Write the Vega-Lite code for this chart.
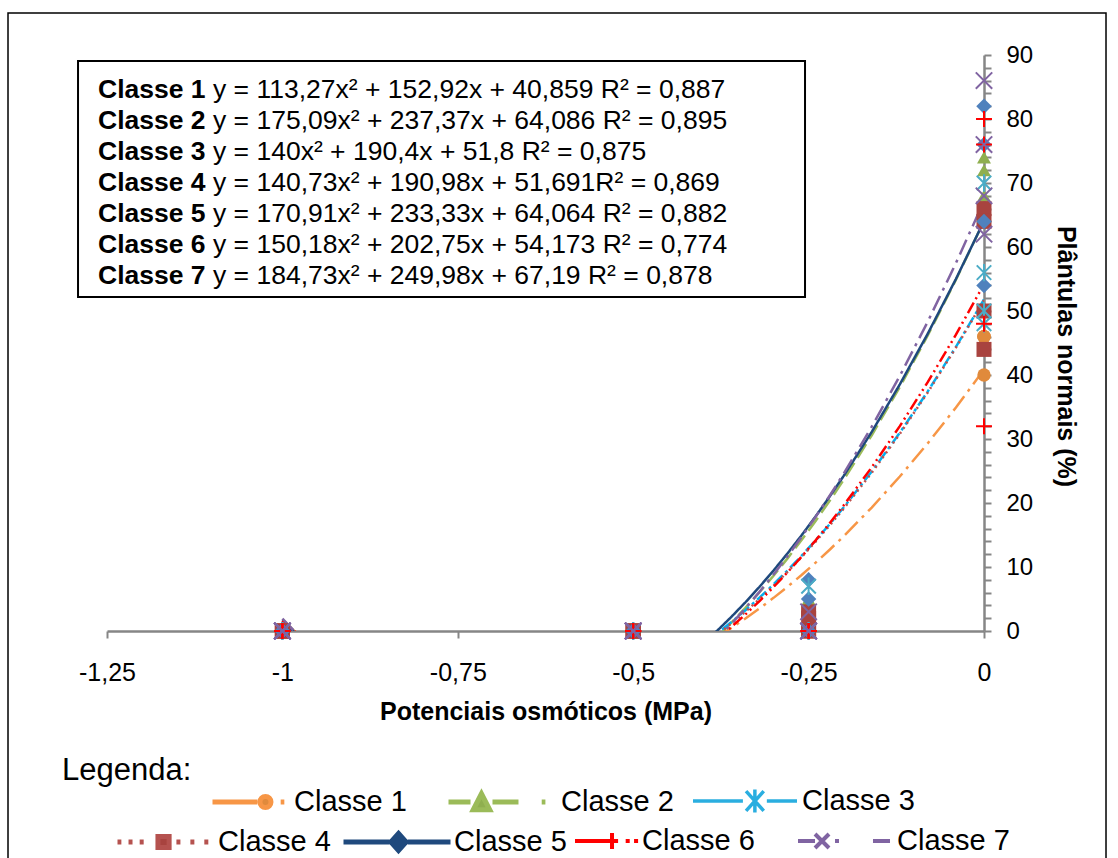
{
  "$schema": "https://vega.github.io/schema/vega-lite/v6.json",
  "width": 877,
  "height": 576,
  "autosize": {"type": "none"},
  "padding": {"left": 107, "top": 55, "right": 134, "bottom": 227},
  "background": "white",
  "config": {"view": {"stroke": null}, "font": "Liberation Sans", "axis": {"grid": false}},
  "data": {"values": [
    {"classe": "Classe 1", "x": 0, "y": 40}, {"classe": "Classe 1", "x": 0, "y": 46}, {"classe": "Classe 1", "x": 0, "y": 46}, {"classe": "Classe 1", "x": 0, "y": 46},
    {"classe": "Classe 1", "x": -0.25, "y": 0}, {"classe": "Classe 1", "x": -0.25, "y": 0}, {"classe": "Classe 1", "x": -0.25, "y": 0}, {"classe": "Classe 1", "x": -0.25, "y": 0},
    {"classe": "Classe 1", "x": -0.5, "y": 0}, {"classe": "Classe 1", "x": -0.5, "y": 0}, {"classe": "Classe 1", "x": -0.5, "y": 0}, {"classe": "Classe 1", "x": -0.5, "y": 0},
    {"classe": "Classe 1", "x": -1, "y": 0}, {"classe": "Classe 1", "x": -1, "y": 0}, {"classe": "Classe 1", "x": -1, "y": 0}, {"classe": "Classe 1", "x": -1, "y": 0},
    {"classe": "Classe 2", "x": 0, "y": 74}, {"classe": "Classe 2", "x": 0, "y": 72}, {"classe": "Classe 2", "x": 0, "y": 68}, {"classe": "Classe 2", "x": 0, "y": 64},
    {"classe": "Classe 2", "x": -0.25, "y": 5}, {"classe": "Classe 2", "x": -0.25, "y": 0}, {"classe": "Classe 2", "x": -0.25, "y": 0}, {"classe": "Classe 2", "x": -0.25, "y": 0},
    {"classe": "Classe 2", "x": -0.5, "y": 0}, {"classe": "Classe 2", "x": -0.5, "y": 0}, {"classe": "Classe 2", "x": -0.5, "y": 0}, {"classe": "Classe 2", "x": -0.5, "y": 0},
    {"classe": "Classe 2", "x": -1, "y": 0}, {"classe": "Classe 2", "x": -1, "y": 0}, {"classe": "Classe 2", "x": -1, "y": 0}, {"classe": "Classe 2", "x": -1, "y": 0},
    {"classe": "Classe 3", "x": 0, "y": 70}, {"classe": "Classe 3", "x": 0, "y": 56}, {"classe": "Classe 3", "x": 0, "y": 50}, {"classe": "Classe 3", "x": 0, "y": 48},
    {"classe": "Classe 3", "x": -0.25, "y": 7}, {"classe": "Classe 3", "x": -0.25, "y": 0}, {"classe": "Classe 3", "x": -0.25, "y": 0}, {"classe": "Classe 3", "x": -0.25, "y": 0},
    {"classe": "Classe 3", "x": -0.5, "y": 0}, {"classe": "Classe 3", "x": -0.5, "y": 0}, {"classe": "Classe 3", "x": -0.5, "y": 0}, {"classe": "Classe 3", "x": -0.5, "y": 0},
    {"classe": "Classe 3", "x": -1, "y": 0}, {"classe": "Classe 3", "x": -1, "y": 0}, {"classe": "Classe 3", "x": -1, "y": 0}, {"classe": "Classe 3", "x": -1, "y": 0},
    {"classe": "Classe 4", "x": 0, "y": 66}, {"classe": "Classe 4", "x": 0, "y": 64}, {"classe": "Classe 4", "x": 0, "y": 50}, {"classe": "Classe 4", "x": 0, "y": 44},
    {"classe": "Classe 4", "x": -0.25, "y": 3}, {"classe": "Classe 4", "x": -0.25, "y": 2}, {"classe": "Classe 4", "x": -0.25, "y": 0}, {"classe": "Classe 4", "x": -0.25, "y": 0},
    {"classe": "Classe 4", "x": -0.5, "y": 0}, {"classe": "Classe 4", "x": -0.5, "y": 0}, {"classe": "Classe 4", "x": -0.5, "y": 0}, {"classe": "Classe 4", "x": -0.5, "y": 0},
    {"classe": "Classe 4", "x": -1, "y": 0}, {"classe": "Classe 4", "x": -1, "y": 0}, {"classe": "Classe 4", "x": -1, "y": 0}, {"classe": "Classe 4", "x": -1, "y": 0},
    {"classe": "Classe 5", "x": 0, "y": 82}, {"classe": "Classe 5", "x": 0, "y": 76}, {"classe": "Classe 5", "x": 0, "y": 64}, {"classe": "Classe 5", "x": 0, "y": 54},
    {"classe": "Classe 5", "x": -0.25, "y": 8}, {"classe": "Classe 5", "x": -0.25, "y": 5}, {"classe": "Classe 5", "x": -0.25, "y": 0}, {"classe": "Classe 5", "x": -0.25, "y": 0},
    {"classe": "Classe 5", "x": -0.5, "y": 0}, {"classe": "Classe 5", "x": -0.5, "y": 0}, {"classe": "Classe 5", "x": -0.5, "y": 0}, {"classe": "Classe 5", "x": -0.5, "y": 0},
    {"classe": "Classe 5", "x": -1, "y": 0}, {"classe": "Classe 5", "x": -1, "y": 0}, {"classe": "Classe 5", "x": -1, "y": 0}, {"classe": "Classe 5", "x": -1, "y": 0},
    {"classe": "Classe 6", "x": 0, "y": 80}, {"classe": "Classe 6", "x": 0, "y": 76}, {"classe": "Classe 6", "x": 0, "y": 48}, {"classe": "Classe 6", "x": 0, "y": 32},
    {"classe": "Classe 6", "x": -0.25, "y": 0}, {"classe": "Classe 6", "x": -0.25, "y": 0}, {"classe": "Classe 6", "x": -0.25, "y": 0}, {"classe": "Classe 6", "x": -0.25, "y": 0},
    {"classe": "Classe 6", "x": -0.5, "y": 0}, {"classe": "Classe 6", "x": -0.5, "y": 0}, {"classe": "Classe 6", "x": -0.5, "y": 0}, {"classe": "Classe 6", "x": -0.5, "y": 0},
    {"classe": "Classe 6", "x": -1, "y": 0}, {"classe": "Classe 6", "x": -1, "y": 0}, {"classe": "Classe 6", "x": -1, "y": 0}, {"classe": "Classe 6", "x": -1, "y": 0},
    {"classe": "Classe 7", "x": 0, "y": 86}, {"classe": "Classe 7", "x": 0, "y": 76}, {"classe": "Classe 7", "x": 0, "y": 68}, {"classe": "Classe 7", "x": 0, "y": 62},
    {"classe": "Classe 7", "x": -0.25, "y": 3}, {"classe": "Classe 7", "x": -0.25, "y": 0}, {"classe": "Classe 7", "x": -0.25, "y": 0}, {"classe": "Classe 7", "x": -0.25, "y": 0},
    {"classe": "Classe 7", "x": -0.5, "y": 0}, {"classe": "Classe 7", "x": -0.5, "y": 0}, {"classe": "Classe 7", "x": -0.5, "y": 0}, {"classe": "Classe 7", "x": -0.5, "y": 0},
    {"classe": "Classe 7", "x": -1, "y": 0}, {"classe": "Classe 7", "x": -1, "y": 0}, {"classe": "Classe 7", "x": -1, "y": 0}, {"classe": "Classe 7", "x": -1, "y": 0}
  ]},
  "layer": [
    {
      "data": {"values": [{}]},
      "mark": {"type": "rect", "fill": "white", "fillOpacity": 0, "stroke": "black", "strokeWidth": 1.5, "clip": false},
      "encoding": {
        "x": {"datum": -1.3911, "type": "quantitative", "scale": {"domain": [-1.25, 0], "nice": false, "zero": false}},
        "x2": {"datum": 0.1739},
        "y": {"datum": 96.56, "type": "quantitative", "scale": {"domain": [0, 90], "nice": false, "zero": false}},
        "y2": {"datum": -37.34}
      }
    },
    {
      "data": {"values": [{}]},
      "mark": {"type": "rect", "fill": "white", "stroke": "black", "strokeWidth": 2, "clip": false},
      "encoding": {
        "x": {"datum": -1.2913, "type": "quantitative", "scale": {"domain": [-1.25, 0], "nice": false, "zero": false}},
        "x2": {"datum": -0.2551},
        "y": {"datum": 89.06, "type": "quantitative", "scale": {"domain": [0, 90], "nice": false, "zero": false}},
        "y2": {"datum": 52.19}
      }
    },
    {
      "data": {"values": [{}]},
      "mark": {"type": "text", "align": "left", "baseline": "alphabetic", "fontSize": 26.5, "fontWeight": "bold", "lineHeight": 31, "color": "black", "clip": false,
        "text": ["Classe 1", "Classe 2", "Classe 3", "Classe 4", "Classe 5", "Classe 6", "Classe 7"]},
      "encoding": {
        "x": {"datum": -1.2628, "type": "quantitative", "scale": {"domain": [-1.25, 0], "nice": false, "zero": false}},
        "y": {"datum": 83.28, "type": "quantitative", "scale": {"domain": [0, 90], "nice": false, "zero": false}}
      }
    },
    {
      "data": {"values": [{}]},
      "mark": {"type": "text", "align": "left", "baseline": "alphabetic", "fontSize": 26.5, "fontWeight": "normal", "lineHeight": 31, "color": "black", "clip": false,
        "text": ["y = 113,27x² + 152,92x + 40,859 R² = 0,887", "y = 175,09x² + 237,37x + 64,086 R² = 0,895", "y = 140x² + 190,4x + 51,8 R² = 0,875", "y = 140,73x² + 190,98x + 51,691R² = 0,869", "y = 170,91x² + 233,33x + 64,064 R² = 0,882", "y = 150,18x² + 202,75x + 54,173 R² = 0,774", "y = 184,73x² + 249,98x + 67,19 R² = 0,878"]},
      "encoding": {
        "x": {"datum": -1.0989, "type": "quantitative", "scale": {"domain": [-1.25, 0], "nice": false, "zero": false}},
        "y": {"datum": 83.28, "type": "quantitative", "scale": {"domain": [0, 90], "nice": false, "zero": false}}
      }
    },
    {
      "data": {"values": [{}]},
      "mark": {"type": "text", "align": "left", "baseline": "alphabetic", "fontSize": 31, "color": "black", "clip": false, "text": "Legenda:"},
      "encoding": {
        "x": {"datum": -1.3141, "type": "quantitative", "scale": {"domain": [-1.25, 0], "nice": false, "zero": false}},
        "y": {"datum": -23.28, "type": "quantitative", "scale": {"domain": [0, 90], "nice": false, "zero": false}}
      }
    },
    {
      "transform": [{"regression": "y", "on": "x", "groupby": ["classe"], "method": "poly", "order": 2, "extent": [-1, 0]}],
      "mark": {"type": "line", "strokeWidth": 2.5, "clip": true},
      "encoding": {
        "x": {"field": "x", "type": "quantitative", "scale": {"domain": [-1.25, 0], "nice": false, "zero": false},
          "axis": {"orient": "bottom", "values": [-1.25, -1, -0.75, -0.5, -0.25, 0], "tickCount": 100, "labelExpr": "replace(toString(datum.value), '.', ',')",
            "title": "Potenciais osmóticos (MPa)", "titleFontSize": 25, "titleFontWeight": "bold", "titleColor": "black", "titlePadding": 14,
            "labelFontSize": 25, "labelColor": "black", "labelPadding": 22, "labelFlush": false, "labelOverlap": false,
            "tickSize": 7, "tickWidth": 2, "tickColor": "#868686", "domainColor": "#868686", "domainWidth": 2.5, "grid": false}},
        "y": {"field": "y", "type": "quantitative", "scale": {"domain": [0, 90], "nice": false, "zero": false},
          "axis": {"orient": "right", "values": [0, 2, 4, 6, 8, 10, 12, 14, 16, 18, 20, 22, 24, 26, 28, 30, 32, 34, 36, 38, 40, 42, 44, 46, 48, 50, 52, 54, 56, 58, 60, 62, 64, 66, 68, 70, 72, 74, 76, 78, 80, 82, 84, 86, 88, 90],
            "tickCount": 100,
            "labelExpr": "datum.value % 10 == 0 ? datum.label : ''",
            "title": "Plântulas normais (%)", "titleFontSize": 25, "titleFontWeight": "bold", "titleColor": "black", "titlePadding": 20, "titleY": 301,
            "labelFontSize": 24, "labelColor": "black", "labelPadding": 15, "labelFlush": false, "labelOverlap": false,
            "tickSize": 7, "tickWidth": 2, "tickColor": "#868686", "domainColor": "#868686", "domainWidth": 2.5, "grid": false}},
        "stroke": {"field": "classe", "type": "nominal",
          "scale": {"domain": ["Classe 1", "Classe 2", "Classe 3", "Classe 4", "Classe 5", "Classe 6", "Classe 7"],
            "range": ["#F79646", "#9BBB59", "#00B0F0", "#C0504D", "#1F497D", "#FF0000", "#8064A2"]}, "legend": null},
        "strokeDash": {"field": "classe", "type": "nominal",
          "scale": {"domain": ["Classe 1", "Classe 2", "Classe 3", "Classe 4", "Classe 5", "Classe 6", "Classe 7"],
            "range": [[18, 6, 3, 6], [16, 6], [12, 4, 3, 4], [2, 4], [1, 0], [12, 4, 2, 4, 2, 4], [16, 6, 3, 6]]}, "legend": null}
      }
    },
    {
      "transform": [{"filter": "indexof(['Classe 1','Classe 2','Classe 4','Classe 5'], datum.classe) >= 0"}],
      "mark": {"type": "point", "filled": true, "opacity": 1, "clip": false},
      "encoding": {
        "x": {"field": "x", "type": "quantitative", "scale": {"domain": [-1.25, 0], "nice": false, "zero": false}},
        "y": {"field": "y", "type": "quantitative", "scale": {"domain": [0, 90], "nice": false, "zero": false}},
        "color": {"field": "classe", "type": "nominal",
          "scale": {"domain": ["Classe 1", "Classe 2", "Classe 3", "Classe 4", "Classe 5", "Classe 6", "Classe 7"],
            "range": ["#E08A3C", "#8FAF4F", "#4BACC6", "#A8433F", "#4F81BD", "#FF0000", "#8064A2"]}, "legend": null},
        "shape": {"field": "classe", "type": "nominal",
          "scale": {"domain": ["Classe 1", "Classe 2", "Classe 4", "Classe 5"], "range": ["circle", "triangle-up", "square", "diamond"]}, "legend": null},
        "size": {"field": "classe", "type": "ordinal",
          "scale": {"domain": ["Classe 1", "Classe 2", "Classe 3", "Classe 4", "Classe 5", "Classe 6", "Classe 7"], "range": [180, 270, 210, 230, 250, 240, 190]}, "legend": null}
      }
    },
    {
      "transform": [{"filter": "indexof(['Classe 3','Classe 6','Classe 7'], datum.classe) >= 0"}],
      "mark": {"type": "point", "filled": false, "opacity": 1, "strokeWidth": 2, "clip": false},
      "encoding": {
        "x": {"field": "x", "type": "quantitative", "scale": {"domain": [-1.25, 0], "nice": false, "zero": false}},
        "y": {"field": "y", "type": "quantitative", "scale": {"domain": [0, 90], "nice": false, "zero": false}},
        "color": {"field": "classe", "type": "nominal",
          "scale": {"domain": ["Classe 1", "Classe 2", "Classe 3", "Classe 4", "Classe 5", "Classe 6", "Classe 7"],
            "range": ["#E08A3C", "#8FAF4F", "#4BACC6", "#A8433F", "#4F81BD", "#FF0000", "#8064A2"]}, "legend": null},
        "shape": {"field": "classe", "type": "nominal",
          "scale": {"domain": ["Classe 3", "Classe 6", "Classe 7"],
            "range": ["M-1,-1L1,1M-1,1L1,-1M0,-1.2L0,1.2", "M-1,0L1,0M0,-1L0,1", "M-1,-1L1,1M-1,1L1,-1"]}, "legend": null},
        "size": {"field": "classe", "type": "ordinal",
          "scale": {"domain": ["Classe 1", "Classe 2", "Classe 3", "Classe 4", "Classe 5", "Classe 6", "Classe 7"], "range": [180, 270, 210, 230, 250, 240, 190]}, "legend": null}
      }
    },
    {
      "transform": [{"filter": "false"}],
      "mark": {"type": "point", "filled": true, "opacity": 1, "fill": "#E08A3C", "stroke": "#F79646", "strokeWidth": 5},
      "encoding": {
        "shape": {"field": "classe", "type": "nominal",
          "scale": {"domain": ["Classe 1"], "range": ["M-1,0L0.23,0M0.3,0A0.151,0.151,0,1,0,0.602,0A0.151,0.151,0,1,0,0.3,0ZM0.868,0L0.968,0"]},
          "legend": {"orient": "none", "legendX": 103, "legendY": 708, "title": null, "symbolSize": 5329, "symbolStrokeWidth": 5,
            "labelFontSize": 29, "labelColor": "black", "labelOffset": 6, "padding": 0, "labelLimit": 0}}
      }
    },
    {
      "transform": [{"filter": "false"}],
      "mark": {"type": "point", "filled": true, "opacity": 1, "fill": "#8FAF4F", "stroke": "#9BBB59", "strokeWidth": 5},
      "encoding": {
        "shape": {"field": "classe", "type": "nominal",
          "scale": {"domain": ["Classe 2"], "range": ["M-1,0L-0.546,0M-0.32,-0.17L-0.49,0.16L-0.15,0.16ZM-0.093,0L0.443,0M0.922,0L0.998,0"]},
          "legend": {"orient": "none", "legendX": 339, "legendY": 696, "title": null, "symbolSize": 9409, "symbolStrokeWidth": 5,
            "labelFontSize": 29, "labelColor": "black", "labelOffset": 13, "padding": 0, "labelLimit": 0}}
      }
    },
    {
      "transform": [{"filter": "false"}],
      "mark": {"type": "point", "filled": true, "opacity": 1, "fill": "#4BACC6", "stroke": "#2AAEE0", "strokeWidth": 5},
      "encoding": {
        "shape": {"field": "classe", "type": "nominal",
          "scale": {"domain": ["Classe 3"], "range": ["M-1,0L-0.04,0M0.42,0L1,0M0.02,-0.19L0.36,0.19M0.02,0.19L0.36,-0.19M0.19,-0.22L0.19,0.22"]},
          "legend": {"orient": "none", "legendX": 584, "legendY": 692, "title": null, "symbolSize": 10816, "symbolStrokeWidth": 3.5,
            "labelFontSize": 29, "labelColor": "black", "labelOffset": 3, "padding": 0, "labelLimit": 0}}
      }
    },
    {
      "transform": [{"filter": "false"}],
      "mark": {"type": "point", "filled": true, "opacity": 1, "fill": "#A8433F", "stroke": "#B5524F", "strokeWidth": 5},
      "encoding": {
        "shape": {"field": "classe", "type": "nominal",
          "scale": {"domain": ["Classe 4"], "range": ["M-1.0,0L-0.917,0M-0.763,0L-0.677,0M-0.523,0L-0.437,0M-0.13,-0.12L0.11,-0.12L0.11,0.12L-0.13,0.12ZM0.267,0L0.353,0M0.567,0L0.653,0M0.867,0L0.953,0"]},
          "legend": {"orient": "none", "legendX": 8, "legendY": 738, "title": null, "symbolSize": 8649, "symbolStrokeWidth": 5,
            "labelFontSize": 29, "labelColor": "black", "labelOffset": 5, "padding": 0, "labelLimit": 0}}
      }
    },
    {
      "transform": [{"filter": "false"}],
      "mark": {"type": "point", "filled": true, "opacity": 1, "fill": "#1F497D", "stroke": "#1F497D", "strokeWidth": 5},
      "encoding": {
        "shape": {"field": "classe", "type": "nominal",
          "scale": {"domain": ["Classe 5"], "range": ["M-1,0L-0.14,0M0.028,-0.16L0.17,0L0.028,0.16L-0.114,0ZM0.2,0L1,0"]},
          "legend": {"orient": "none", "legendX": 234, "legendY": 731, "title": null, "symbolSize": 11449, "symbolStrokeWidth": 5,
            "labelFontSize": 29, "labelColor": "black", "labelOffset": 1, "padding": 0, "labelLimit": 0}}
      }
    },
    {
      "transform": [{"filter": "false"}],
      "mark": {"type": "point", "filled": true, "opacity": 1, "fill": "#FF0000", "stroke": "#FF0000", "strokeWidth": 5},
      "encoding": {
        "shape": {"field": "classe", "type": "nominal",
          "scale": {"domain": ["Classe 6"], "range": ["M-1,0L0.0,0M0.0,0L0.39,0M0.194,-0.26L0.194,0.26M0.635,0L0.765,0M0.905,0L1.035,0"]},
          "legend": {"orient": "none", "legendX": 466, "legendY": 753, "title": null, "symbolSize": 3844, "symbolStrokeWidth": 4,
            "labelFontSize": 29, "labelColor": "black", "labelOffset": 3, "padding": 0, "labelLimit": 0}}
      }
    },
    {
      "transform": [{"filter": "false"}],
      "mark": {"type": "point", "filled": true, "opacity": 1, "fill": "#8064A2", "stroke": "#8064A2", "strokeWidth": 5},
      "encoding": {
        "shape": {"field": "classe", "type": "nominal",
          "scale": {"domain": ["Classe 7"], "range": ["M-1,0L-0.63,0M-0.63,-0.152L-0.326,0.152M-0.63,0.152L-0.326,-0.152M-0.195,0L-0.109,0M0.63,0L1,0"]},
          "legend": {"orient": "none", "legendX": 689, "legendY": 738, "title": null, "symbolSize": 8464, "symbolStrokeWidth": 4,
            "labelFontSize": 29, "labelColor": "black", "labelOffset": 5, "padding": 0, "labelLimit": 0}}
      }
    }
  ],
  "resolve": {"scale": {"shape": "independent"}}
}
